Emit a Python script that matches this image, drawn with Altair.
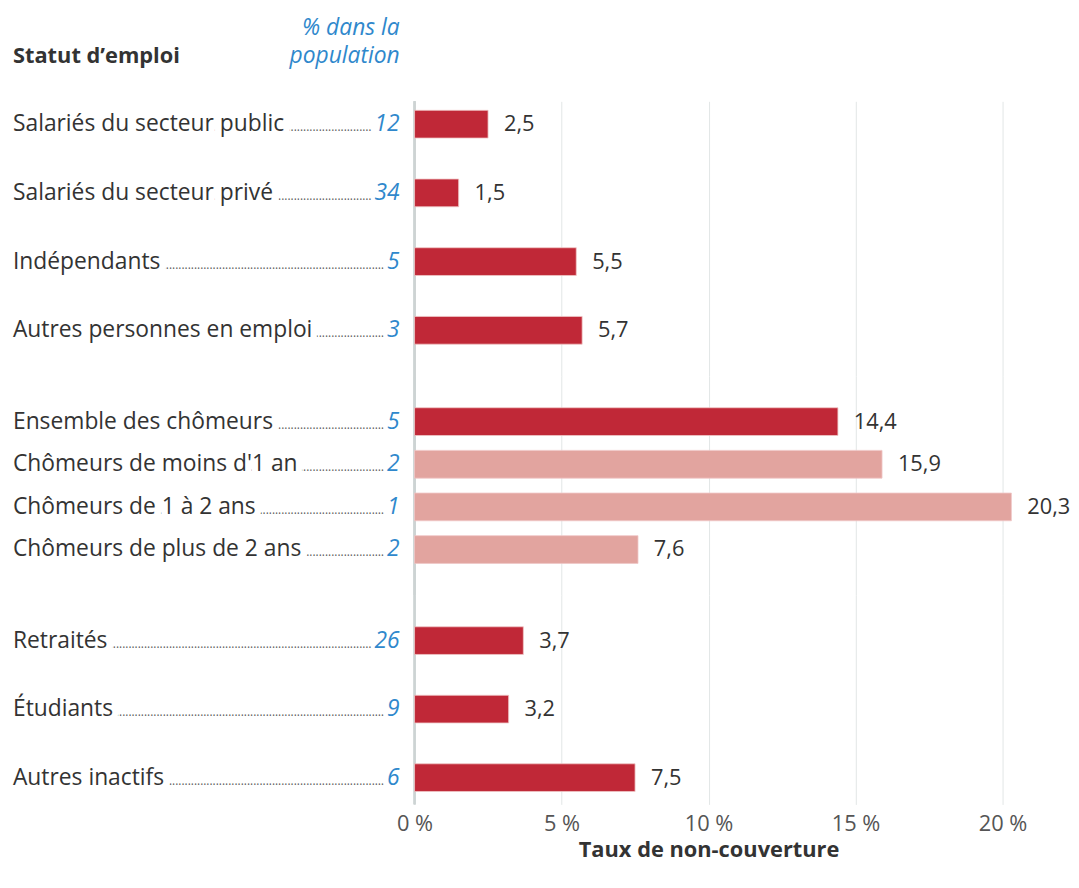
import altair as alt
import pandas as pd

categories = [
    "Salariés du secteur public",
    "Salariés du secteur privé",
    "Indépendants",
    "Autres personnes en emploi",
    "Ensemble des chômeurs",
    "Chômeurs de moins d'1 an",
    "Chômeurs de 1 à 2 ans",
    "Chômeurs de plus de 2 ans",
    "Retraités",
    "Étudiants",
    "Autres inactifs",
]
values = [2.5, 1.5, 5.5, 5.7, 14.4, 15.9, 20.3, 7.6, 3.7, 3.2, 7.5]
pop_share = ["12", "34", "5", "3", "5", "2", "1", "2", "26", "9", "6"]
groups = [1, 1, 1, 1, 2, 2, 2, 2, 3, 3, 3]
kinds = ["ensemble"] * 5 + ["detail"] * 3 + ["ensemble"] * 3
x_ticks = [0, 5, 10, 15, 20]

df = pd.DataFrame({
    "cat": categories,
    "value": values,
    "pct": pop_share,
    "group": groups,
    "kind": kinds,
})

FONT = "Open Sans"
FS = 23
FS2 = 22
TXT = "#333333"
BLUE = "#2f88cc"
LABEL_X = -405
NUM_X = -15

xscale = alt.Scale(domain=[0, 20], nice=False)


def panel(g, height, pi, po, align, bottom=False, header=False):
    d = df[df["group"] == g]
    ysc = alt.Scale(domain=list(d["cat"]), paddingInner=pi, paddingOuter=po, align=align)
    y = alt.Y("cat:N", scale=ysc, axis=None)
    if bottom:
        xaxis = alt.Axis(
            values=x_ticks, grid=True, gridColor="#e2e6e6", ticks=False, domain=False,
            labelExpr="datum.value + ' %'", labelFont=FONT, labelFontSize=FS2,
            labelColor="#555555", labelPadding=9, labelFlush=False,
            title="Taux de non-couverture", titleFont=FONT, titleFontSize=FS2,
            titleColor=TXT, titleFontWeight="bold", titlePadding=6,
        )
    else:
        xaxis = alt.Axis(values=x_ticks, grid=True, gridColor="#e2e6e6", ticks=False,
                         domain=False, labels=False, title=None)
    base = alt.Chart(d)
    zero = base.mark_rule(color="#cdd3d3", strokeWidth=2).encode(
        x=alt.datum(0, scale=xscale, axis=xaxis)
    )
    bars = base.mark_bar(stroke="#f0c8c8", strokeWidth=0.8).encode(
        x=alt.X("value:Q", scale=xscale, axis=xaxis),
        y=y,
        color=alt.Color("kind:N", scale=alt.Scale(domain=["ensemble", "detail"],
                                                  range=["#c02837", "#e2a49f"]), legend=None),
    )
    vals = base.transform_calculate(
        lbl="replace(format(datum.value, '.1f'), '.', ',')"
    ).mark_text(align="left", baseline="middle", dx=16, font=FONT, fontSize=FS2, color=TXT).encode(
        x="value:Q", y=y, text="lbl:N"
    )
    dots1 = base.transform_filter("length(datum.pct) == 1").mark_text(
        align="left", baseline="middle", dy=3, font=FONT, fontSize=12,
        color="#5f5f5f", text="." * 400, limit=abs(LABEL_X) - 28,
        ellipsis="").encode(x=alt.value(LABEL_X), y=y)
    dots2 = base.transform_filter("length(datum.pct) == 2").mark_text(
        align="left", baseline="middle", dy=3, font=FONT, fontSize=12,
        color="#5f5f5f", text="." * 400, limit=abs(LABEL_X) - 42,
        ellipsis="").encode(x=alt.value(LABEL_X), y=y)
    lab_halo = base.mark_text(align="left", baseline="middle", font=FONT, fontSize=FS,
                              color="white", stroke="white", strokeWidth=13).encode(
        x=alt.value(LABEL_X), y=y, text="cat:N")
    lab = base.mark_text(align="left", baseline="middle", font=FONT, fontSize=FS, color=TXT).encode(
        x=alt.value(LABEL_X), y=y, text="cat:N")
    num = base.mark_text(align="right", baseline="middle", font=FONT, fontSize=FS,
                         fontStyle="italic", color=BLUE).encode(x=alt.value(NUM_X), y=y, text="pct:N")
    layers = [zero, bars, vals, dots1, dots2, lab_halo, lab, num]
    if header:
        one = alt.Chart(pd.DataFrame({"a": [0]}))
        layers.append(one.mark_text(align="left", baseline="middle", font=FONT, fontSize=FS2,
                                    fontWeight="bold", color=TXT, text="Statut d’emploi").encode(
            x=alt.value(LABEL_X), y=alt.value(-46)))
        layers.append(one.mark_text(align="right", baseline="middle", font=FONT, fontSize=FS,
                                    fontStyle="italic", color=BLUE, text="% dans la").encode(
            x=alt.value(NUM_X), y=alt.value(-73.5)))
        layers.append(one.mark_text(align="right", baseline="middle", font=FONT, fontSize=FS,
                                    fontStyle="italic", color=BLUE, text="population").encode(
            x=alt.value(NUM_X), y=alt.value(-46)))
    return alt.layer(*layers).properties(width=593, height=height)


p1 = panel(1, 277, 0.596, 0.297, 0.22, header=True)
p2 = panel(2, 221, 0.349, 0.744, 0.5)
p3 = panel(3, 211, 0.596, 0.325, 0.71, bottom=True)

chart = alt.vconcat(p1, p2, p3, spacing=0, bounds="flush").properties(
    padding={"left": 5, "top": 5.5, "right": 0, "bottom": 0}
).configure_view(stroke=None)

chart.save("out.html", embed_options={"renderer": "svg", "actions": False})
